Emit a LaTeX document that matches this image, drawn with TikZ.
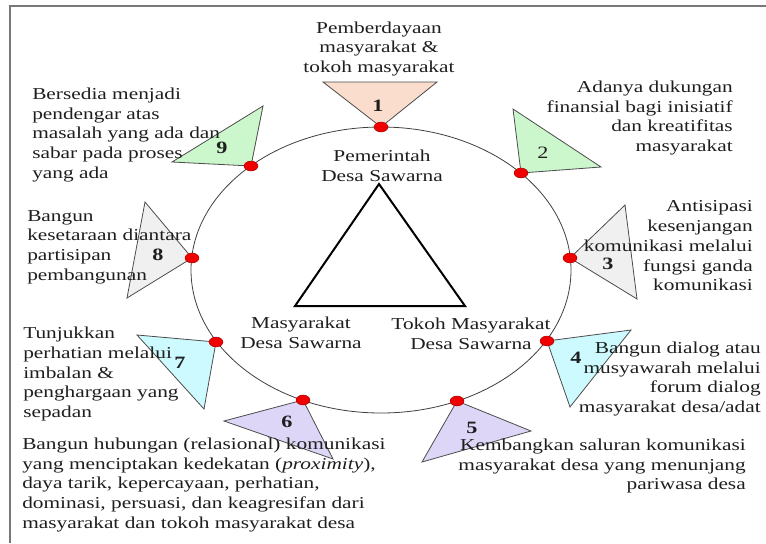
\documentclass[tikz,border=0pt]{standalone}
\usepackage{fontspec}
\setmainfont[FakeStretch=1.28]{Liberation Serif}
\usetikzlibrary{shapes.geometric, positioning}
\definecolor{framecolor}{RGB}{120,120,120}
\definecolor{peachcolor}{RGB}{250,221,204}
\definecolor{greencolor}{RGB}{204,247,204}
\definecolor{greycolor}{RGB}{240,240,240}
\definecolor{cyancolor}{RGB}{204,250,255}
\definecolor{lilaccolor}{RGB}{221,214,246}
\definecolor{dotcolor}{RGB}{240,0,0}
\definecolor{textcolor}{RGB}{30,30,30}

\begin{document}
\begin{tikzpicture}[
    x=0.75pt, y=-0.75pt,
    frame/.style={draw=framecolor, line width=1.6pt},
    ring/.style={draw=black!75, line width=0.6pt},
    dot/.style={ellipse, draw=red!60!black, fill=dotcolor, line width=0.3pt, minimum width=10.5pt, minimum height=7.5pt, inner sep=0pt},
    pennant/.style={draw=black!70, line width=0.6pt},
    core/.style={draw=black, line width=1.5pt, line join=miter},
    num/.style={font=\fontsize{13}{15}\selectfont\bfseries, text=textcolor, inner sep=0pt},
    txt/.style={font=\fontsize{12.5}{14.8}\selectfont, text=textcolor, inner sep=0pt}
]
    \useasboundingbox (0,0) rectangle (766,543);

    % Frame (top and left edges)
    \draw[frame] (10,543) -- (10,6) -- (766,6);

    % Ring
    \draw[ring] (381,270) ellipse [x radius=190, y radius=143];

    % Dots on the ring
    \coordinate (d1) at (381,127);
    \coordinate (d2) at (521,173);
    \coordinate (d3) at (570,258);
    \coordinate (d4) at (547,341);
    \coordinate (d5) at (457,401);
    \coordinate (d6) at (303,400);
    \coordinate (d7) at (216,342);
    \coordinate (d8) at (192,258);
    \coordinate (d9) at (251,166);

    % Pennants
    \draw[pennant, fill=peachcolor] (d1) -- (323,82) -- (437,82) -- cycle;
    \draw[pennant, fill=greencolor] (d2) -- (513,109) -- (601,167) -- cycle;
    \draw[pennant, fill=greycolor] (d3) -- (625,205) -- (637,299) -- cycle;
    \draw[pennant, fill=cyancolor] (d4) -- (631,330) -- (570,407) -- cycle;
    \draw[pennant, fill=lilaccolor] (d5) -- (531,431) -- (422,462) -- cycle;
    \draw[pennant, fill=lilaccolor] (d6) -- (224,421) -- (333,459) -- cycle;
    \draw[pennant, fill=cyancolor] (d7) -- (137,335) -- (204,409) -- cycle;
    \draw[pennant, fill=greycolor] (d8) -- (145,202) -- (127,298) -- cycle;
    \draw[pennant, fill=greencolor] (d9) -- (263,106) -- (172,162) -- cycle;

    % Numbers
    \node[num] (n1) at (378,106) {1};
    \node[num, font=\fontsize{13}{15}\selectfont] (n2) at (543,153) {2};
    \node[num] (n3) at (608,264) {3};
    \node[num] (n4) at (576,358) {4};
    \node[num] (n5) at (472,428) {5};
    \node[num] (n6) at (287,422) {6};
    \node[num] (n7) at (180,363) {7};
    \node[num] (n8) at (158,255) {8};
    \node[num] (n9) at (222,148) {9};

    % Central triangle
    \draw[core] (379,184) -- (465,306) -- (295,306) -- cycle;

    % Actors
    \node[txt, align=center] (pemdes) at (382,166) {Pemerintah\\Desa Sawarna};
    \node[txt, align=center] (masdes) at (301,333) {Masyarakat\\Desa Sawarna};
    \node[txt, align=center] (tokdes) at (471,334) {Tokoh Masyarakat\\Desa Sawarna};

    % Strategies
    \node[txt, align=center] (s1) at (379,49) {Pemberdayaan\\masyarakat \&\\tokoh masyarakat};
    \node[txt, align=right, anchor=east] (s2) at (733,118) {Adanya dukungan\\finansial bagi inisiatif\\dan kreatifitas\\masyarakat};
    \node[txt, align=right, anchor=east] (s3) at (753,246) {Antisipasi\\kesenjangan\\komunikasi melalui\\fungsi ganda\\komunikasi};
    \node[txt, align=right, anchor=east] (s4) at (761,379) {Bangun dialog atau\\musyawarah melalui\\forum dialog\\masyarakat desa/adat};
    \node[txt, align=right, anchor=east] (s5) at (746,466) {Kembangkan saluran komunikasi\\masyarakat desa yang menunjang\\pariwasa desa};
    \node[txt, align=left, anchor=west] (s6) at (22,485) {Bangun hubungan (relasional) komunikasi\\yang menciptakan kedekatan (\textit{proximity}),\\daya tarik, kepercayaan, perhatian,\\dominasi, persuasi, dan keagresifan dari\\masyarakat dan tokoh masyarakat desa};
    \node[txt, align=left, anchor=west] (s7) at (23,374) {Tunjukkan\\perhatian melalui\\imbalan \&\\penghargaan yang\\sepadan};
    \node[txt, align=left, anchor=west] (s8) at (27,247) {Bangun\\kesetaraan diantara\\partisipan\\pembangunan};
    \node[txt, align=left, anchor=west] (s9) at (32,135) {Bersedia menjadi\\pendengar atas\\masalah yang ada dan\\sabar pada proses\\yang ada};

    % Dots on top
    \foreach \d in {d1,d2,d3,d4,d5,d6,d7,d8,d9}
        \node[dot] at (\d) {};
\end{tikzpicture}
\end{document}
